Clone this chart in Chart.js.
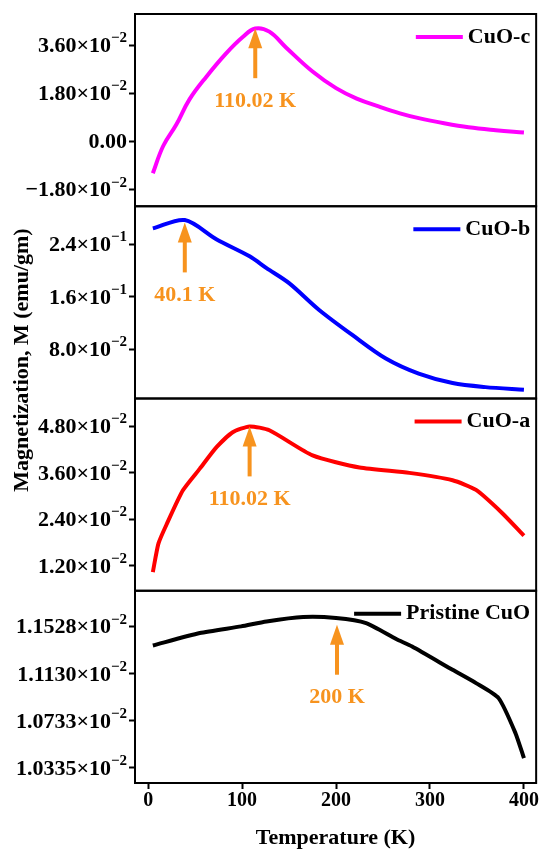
<!DOCTYPE html>
<html lang="en">
<head>
    <meta charset="UTF-8">
    <title>Magnetization vs Temperature - CuO samples</title>
    <script src="https://cdn.jsdelivr.net/npm/chart.js"></script>
    <style>
        body { margin: 0; background: #fff; }
        #wrap { width: 539px; height: 852px; position: relative; }
    </style>
</head>
<body>
<div id="wrap"><canvas id="mtChart"></canvas></div>
<script>
    // ---- data (T in K, M in emu/gm) ----
    var tempC = [5, 16, 30, 44, 62, 83, 101, 114, 129, 147, 175, 200, 222, 246, 268, 288, 315, 341, 370, 400];
    var magC  = [-0.0119, -0.0017, 0.0063, 0.0157, 0.0242, 0.0329, 0.0391, 0.0422, 0.0410, 0.0350, 0.0261, 0.0199, 0.0160, 0.0130, 0.0105, 0.0087, 0.0068, 0.0053, 0.0042, 0.0033];

    var tempB = [5, 39, 73, 108, 126, 150, 182, 218, 253, 288, 324, 359, 400];
    var magB  = [0.2646, 0.2774, 0.2477, 0.2220, 0.2040, 0.1810, 0.1400, 0.1010, 0.0657, 0.0426, 0.0282, 0.0220, 0.0180];

    var tempA = [5, 11, 20, 37, 55, 73, 90, 108, 129, 175, 225, 278, 324, 349, 377, 400];
    var magA  = [0.0104, 0.0178, 0.0229, 0.0315, 0.0371, 0.0427, 0.0465, 0.0480, 0.0470, 0.0405, 0.0374, 0.0360, 0.0341, 0.0316, 0.0256, 0.0198];

    var tempP = [5, 55, 99, 126, 165, 200, 232, 264, 281, 324, 349, 373, 391, 400];
    var magP  = [0.011370, 0.011475, 0.011531, 0.011573, 0.011610, 0.011602, 0.011559, 0.011424, 0.011361, 0.011164, 0.011052, 0.010925, 0.010629, 0.010418];

    var seriesNames = ['CuO-c', 'CuO-b', 'CuO-a', 'Pristine CuO'];
    var seriesColors = ['#ff00ff', '#0000ff', '#ff0000', '#000000'];
    var seriesTension = [0.4, 0.3, 0.2, 0.2];

    // y ranges and ticks per panel (top to bottom)
    var yMins = [-0.0242, 0.0046, 0.00558, 0.010208];
    var yMaxs = [0.0476, 0.2985, 0.0552, 0.011832];
    var ticksC = [-0.018, 0, 0.018, 0.036];
    var labelsC = ['\u22121.80\u00d710^\u22122', '0.00', '1.80\u00d710^\u22122', '3.60\u00d710^\u22122'];
    var ticksB = [0.08, 0.16, 0.24];
    var labelsB = ['8.0\u00d710^\u22122', '1.6\u00d710^\u22121', '2.4\u00d710^\u22121'];
    var ticksA = [0.012, 0.024, 0.036, 0.048];
    var labelsA = ['1.20\u00d710^\u22122', '2.40\u00d710^\u22122', '3.60\u00d710^\u22122', '4.80\u00d710^\u22122'];
    var ticksP = [0.010335, 0.010733, 0.011130, 0.011528];
    var labelsP = ['1.0335\u00d710^\u22122', '1.0733\u00d710^\u22122', '1.1130\u00d710^\u22122', '1.1528\u00d710^\u22122'];
    var xTicks = [0, 100, 200, 300, 400];

    // arrow annotations: temperature, M at arrow tip, label
    var arrowT = [114, 39, 108, 201];
    var arrowM = [0.0423, 0.2738, 0.0480, 0.011545];
    var arrowText = ['110.02 K', '40.1 K', '110.02 K', '200 K'];

    var FONT = "'Liberation Serif', 'Times New Roman', serif";
    var ORANGE = '#f7931e';
    var axisIds = ['yC', 'yB', 'yA', 'yP'];
    var tickSets = [[ticksC, labelsC], [ticksB, labelsB], [ticksA, labelsA], [ticksP, labelsP]];

    function toPoints(t, m) {
        return t.map(function (v, i) { return { x: v, y: m[i] }; });
    }

    function yScale(idx) {
        var vals = tickSets[idx][0];
        return {
            type: 'linear',
            position: 'left',
            stack: 'panels',
            stackWeight: 1,
            min: yMins[idx],
            max: yMaxs[idx],
            afterBuildTicks: function (scale) {
                scale.ticks = vals.map(function (v) { return { value: v }; });
            },
            afterFit: function (scale) { scale.width = 135; },
            ticks: { display: false },
            grid: { drawOnChartArea: false, drawTicks: true, tickLength: 6, tickWidth: 2, color: '#000' },
            border: { display: true, color: '#000', width: 2 }
        };
    }

    // y tick labels with superscript exponent
    function drawTickLabel(ctx, label, right, y) {
        var parts = label.split('^');
        var expW = 0;
        ctx.fillStyle = '#000';
        ctx.textAlign = 'right';
        ctx.textBaseline = 'middle';
        if (parts.length > 1) {
            ctx.font = 'bold 15px ' + FONT;
            expW = ctx.measureText(parts[1]).width;
            ctx.fillText(parts[1], right, y - 7);
        }
        ctx.font = 'bold 22px ' + FONT;
        ctx.fillText(parts[0], right - expW, y + 1);
    }

    // panel frames, tick labels, legends, axis title and arrows
    var decorations = {
        id: 'decorations',
        afterDatasetsDraw: function (chart) {
            var ctx = chart.ctx;
            var area = chart.chartArea;
            var xs = chart.scales.x;
            ctx.save();

            // frames
            ctx.strokeStyle = '#000';
            ctx.lineWidth = 2;
            axisIds.forEach(function (id) {
                var s = chart.scales[id];
                ctx.strokeRect(area.left, s.top, area.right - area.left, s.bottom - s.top);
            });

            // y tick labels
            axisIds.forEach(function (id, i) {
                var s = chart.scales[id];
                tickSets[i][0].forEach(function (v, j) {
                    drawTickLabel(ctx, tickSets[i][1][j], area.left - 8, s.getPixelForValue(v));
                });
            });

            // legends (top right of each panel)
            ctx.font = 'bold 22px ' + FONT;
            ctx.textBaseline = 'middle';
            axisIds.forEach(function (id, i) {
                var s = chart.scales[id];
                var y = s.top + 23;
                var w = ctx.measureText(seriesNames[i]).width;
                var textX = area.right - 6 - w;
                ctx.fillStyle = '#000';
                ctx.textAlign = 'left';
                ctx.fillText(seriesNames[i], textX, y);
                ctx.strokeStyle = seriesColors[i];
                ctx.lineWidth = 4;
                ctx.beginPath();
                ctx.moveTo(textX - 52, y);
                ctx.lineTo(textX - 5, y);
                ctx.stroke();
            });

            // arrows
            ctx.fillStyle = ORANGE;
            ctx.strokeStyle = ORANGE;
            axisIds.forEach(function (id, i) {
                var s = chart.scales[id];
                var x = xs.getPixelForValue(arrowT[i]);
                var tip = s.getPixelForValue(arrowM[i]);
                ctx.beginPath();
                ctx.moveTo(x, tip);
                ctx.lineTo(x - 7, tip + 20);
                ctx.lineTo(x + 7, tip + 20);
                ctx.closePath();
                ctx.fill();
                ctx.lineWidth = 4;
                ctx.beginPath();
                ctx.moveTo(x, tip + 18);
                ctx.lineTo(x, tip + 50);
                ctx.stroke();
                ctx.textAlign = 'center';
                ctx.font = 'bold 22px ' + FONT;
                ctx.fillText(arrowText[i], x, tip + 73);
            });

            // shared y title
            ctx.fillStyle = '#000';
            ctx.font = 'bold 22px ' + FONT;
            ctx.translate(22, 360);
            ctx.rotate(-Math.PI / 2);
            ctx.textAlign = 'center';
            ctx.fillText('Magnetization, M (emu/gm)', 0, 0);
            ctx.restore();
        }
    };

    var datasets = [
        [tempC, magC], [tempB, magB], [tempA, magA], [tempP, magP]
    ].map(function (pair, i) {
        return {
            label: seriesNames[i],
            data: toPoints(pair[0], pair[1]),
            yAxisID: axisIds[i],
            borderColor: seriesColors[i],
            borderWidth: 4,
            pointRadius: 0,
            fill: false,
            tension: seriesTension[i]
        };
    });

    var ctx = document.getElementById('mtChart').getContext('2d');
    var mtChart = new Chart(ctx, {
        type: 'line',
        data: { datasets: datasets },
        options: {
            responsive: true,
            maintainAspectRatio: false,
            animation: false,
            layout: { padding: { top: 14, right: 2, left: 0, bottom: 0 } },
            plugins: { legend: { display: false }, tooltip: { enabled: false } },
            scales: {
                x: {
                    type: 'linear',
                    min: -14,
                    max: 413,
                    afterBuildTicks: function (scale) {
                        scale.ticks = xTicks.map(function (v) { return { value: v }; });
                    },
                    afterFit: function (scale) { scale.height = 69; },
                    ticks: { color: '#000', padding: 0, font: { family: FONT, size: 20, weight: 'bold' } },
                    grid: { drawOnChartArea: false, drawTicks: true, tickLength: 6, tickWidth: 2, color: '#000' },
                    border: { display: true, color: '#000', width: 2 },
                    title: {
                        display: true,
                        text: 'Temperature (K)',
                        color: '#000',
                        padding: { top: 8, bottom: 0 },
                        font: { family: FONT, size: 22, weight: 'bold' }
                    }
                },
                // stacked panels are laid out last-defined on top
                yP: yScale(3),
                yA: yScale(2),
                yB: yScale(1),
                yC: yScale(0)
            }
        },
        plugins: [decorations]
    });
</script>
</body>
</html>
